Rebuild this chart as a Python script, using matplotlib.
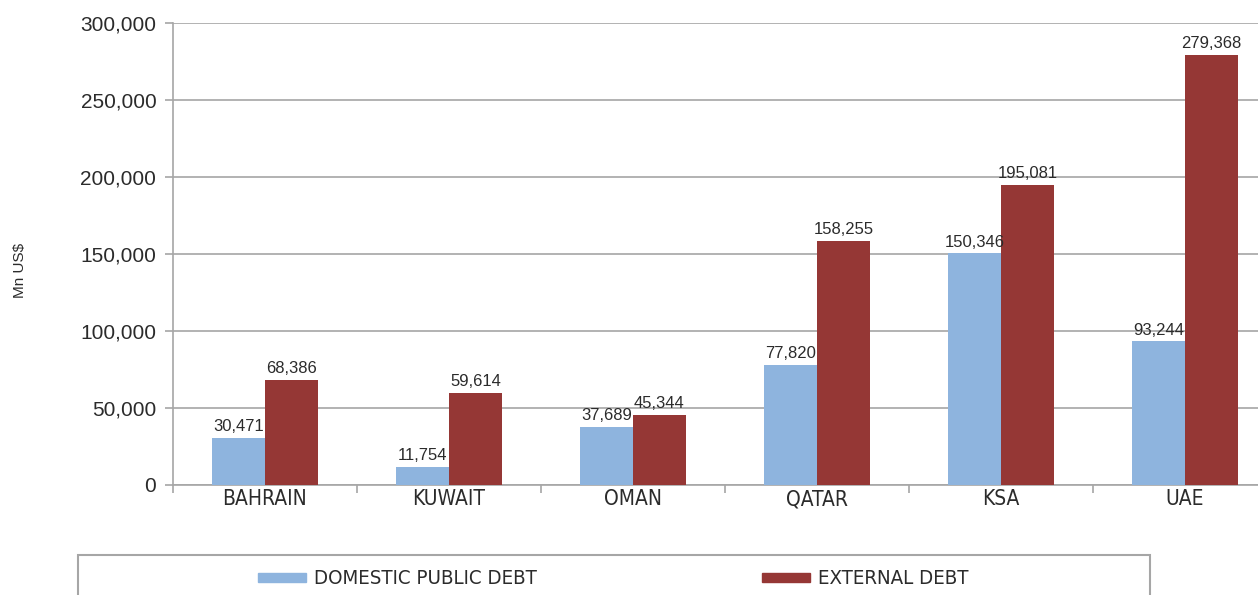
import matplotlib.pyplot as plt
import numpy as np
from matplotlib.patches import Rectangle

#######################################
## Data
#######################################

countries = ['BAHRAIN', 'KUWAIT', 'OMAN', 'QATAR', 'KSA', 'UAE']
domestic = [30471, 11754, 37689, 77820, 150346, 93244]
external = [68386, 59614, 45344, 158255, 195081, 279368]
series_names = ['DOMESTIC PUBLIC DEBT', 'EXTERNAL DEBT']

c_dom = '#8EB4DE'
c_ext = '#953735'
grid_c = '#A6A6A6'
text_c = '#2B2B2B'

W, H = 1258, 595
fig = plt.figure(figsize=(W / 100, H / 100), dpi=100)

# plot area runs past the right edge of the image, as in the reference
left, right, top, bottom = 173, 1277, 23, 485
ax = fig.add_axes([left / W, 1 - bottom / H, (right - left) / W, (bottom - top) / H])

x = np.arange(len(countries))
bw = 0.288
b1 = ax.bar(x - bw / 2, domestic, bw, color=c_dom, zorder=3)
b2 = ax.bar(x + bw / 2, external, bw, color=c_ext, zorder=3)

for bars, vals in ((b1, domestic), (b2, external)):
    for rect, v in zip(bars, vals):
        ax.text(rect.get_x() + rect.get_width() / 2, v + 2500, f'{v:,}',
                ha='center', va='bottom', fontsize=12, color=text_c,
                family='Liberation Sans')

ax.set_xlim(-0.5, len(countries) - 0.5)
ax.set_ylim(0, 300000)
ax.set_yticks(np.arange(0, 300001, 50000))
ax.set_yticklabels([f'{v:,}' for v in range(0, 300001, 50000)],
                   fontsize=15, color=text_c, family='Liberation Sans')
ax.set_xticks(x)
ax.set_xticklabels(countries, fontsize=15, color=text_c,
                   family='DejaVu Sans', fontstretch='condensed')
ax.tick_params(axis='x', length=0, pad=3)
ax.tick_params(axis='y', length=6, color=grid_c, width=1.2, pad=6)

# category boundary ticks
ax.set_xticks(np.arange(-0.5, len(countries) + 0.5, 1), minor=True)
ax.tick_params(axis='x', which='minor', length=6, color=grid_c, width=1.2)

ax.yaxis.grid(True, color=grid_c, linewidth=1.2, zorder=0)
ax.set_axisbelow(True)
for s in ('top', 'right'):
    ax.spines[s].set_visible(False)
for s in ('left', 'bottom'):
    ax.spines[s].set_color(grid_c)
    ax.spines[s].set_linewidth(1.2)

fig.text(20 / W, 1 - 270 / H, 'Mn US$', rotation=90, ha='center', va='center',
         fontsize=11, color=text_c, family='Liberation Sans')

# legend box, cut off at the bottom of the image
fig.patches.append(Rectangle((78 / W, -0.05), (1150 - 78) / W, 0.05 + (H - 555) / H,
                             transform=fig.transFigure, fill=False,
                             edgecolor=grid_c, linewidth=1.5))
ly = 1 - 578 / H
for (px, tx), name, col in zip(((258, 314), (762, 818)), series_names, (c_dom, c_ext)):
    fig.patches.append(Rectangle((px / W, ly - 4 / H), 48 / W, 9 / H,
                                 transform=fig.transFigure, color=col))
    fig.text(tx / W, ly, name, ha='left', va='center', fontsize=14.7, color=text_c,
             family='DejaVu Sans', fontstretch='condensed')

fig.savefig('out.png', dpi=100)
